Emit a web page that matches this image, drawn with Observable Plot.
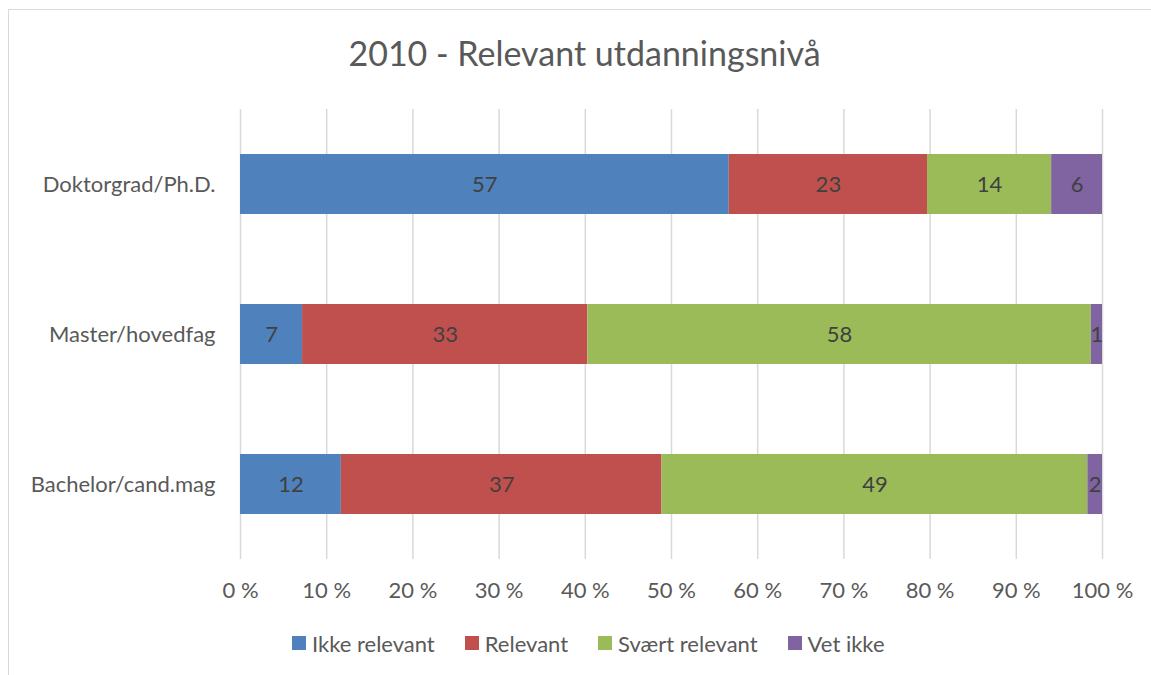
<!DOCTYPE html>
<html><head><meta charset="utf-8">
<script src="https://cdn.jsdelivr.net/npm/d3@7"></script>
<script src="https://cdn.jsdelivr.net/npm/@observablehq/plot@0.6"></script>
<style>
html,body{margin:0;padding:0;background:#fff;overflow:hidden;}
#wrap{position:relative;width:1151px;height:675px;overflow:hidden;font-family:Lato,"Open Sans",sans-serif;}
#frame{position:absolute;left:8px;top:9px;width:1300px;height:800px;border-left:1.5px solid #d9d9d9;border-top:1.5px solid #d9d9d9;}
#title{position:absolute;left:0;width:1169px;top:33px;text-align:center;font-size:34px;line-height:40px;color:#595959;white-space:nowrap;}
#chart{position:absolute;left:0;top:0;}
#legend{position:absolute;left:292px;top:633px;height:20px;display:flex;align-items:center;font-size:22px;color:#595959;white-space:nowrap;}
#legend .item{display:flex;align-items:center;margin-right:30px;}
#legend .sw{width:14px;height:14px;margin-right:6px;display:inline-block;}
</style>
</head><body>
<div id="wrap">
  <div id="frame"></div>
  <div id="title">2010 - Relevant utdanningsnivå</div>
  <div id="chart"></div>
  <div id="legend"></div>
</div>
<script>
const categories = ["Doktorgrad/Ph.D.", "Master/hovedfag", "Bachelor/cand.mag"];
const seriesNames = ["Ikke relevant", "Relevant", "Svært relevant", "Vet ikke"];
const ikkeRelevant = [56.7, 7.2, 11.7];
const relevant = [23.0, 33.1, 37.2];
const svaertRelevant = [14.4, 58.4, 49.4];
const vetIkke = [5.9, 1.3, 1.7];
const seriesColors = ["#4F81BD", "#C0504D", "#9BBB59", "#8064A2"];
const xTicks = [0, 10, 20, 30, 40, 50, 60, 70, 80, 90, 100];

const seriesValues = [ikkeRelevant, relevant, svaertRelevant, vetIkke];
const rows = [];
categories.forEach((c, i) => {
  seriesNames.forEach((s, j) => rows.push({category: c, series: s, value: seriesValues[j][i]}));
});

const chart = Plot.plot({
  width: 1151,
  height: 620,
  marginLeft: 240,
  marginRight: 49,
  marginTop: 109,
  marginBottom: 61,
  style: {fontFamily: "Lato, 'Open Sans', sans-serif", fontSize: "22px", color: "#595959", background: "transparent"},
  x: {domain: [0, 100], ticks: xTicks, tickFormat: d => d + " %", label: null, tickSize: 0, tickPadding: 23},
  y: {domain: categories, label: null, tickSize: 0, tickPadding: 25, paddingInner: 0.6, paddingOuter: 0.3},
  color: {domain: seriesNames, range: seriesColors},
  marks: [
    Plot.ruleX(xTicks, {stroke: "#d9d9d9", strokeWidth: 1.5}),
    Plot.barX(rows, Plot.stackX({x: "value", y: "category", fill: "series"})),
    Plot.text(rows, Plot.stackX({x: "value", y: "category", z: "series", text: d => d3.format(".0f")(d.value), fill: "#404040", fontSize: 22}))
  ]
});
document.getElementById("chart").appendChild(chart);

const legend = document.getElementById("legend");
seriesNames.forEach((s, j) => {
  const item = document.createElement("div");
  item.className = "item";
  const sw = document.createElement("span");
  sw.className = "sw";
  sw.style.background = seriesColors[j];
  const t = document.createElement("span");
  t.textContent = s;
  item.appendChild(sw);
  item.appendChild(t);
  legend.appendChild(item);
});
</script>
</body></html>
